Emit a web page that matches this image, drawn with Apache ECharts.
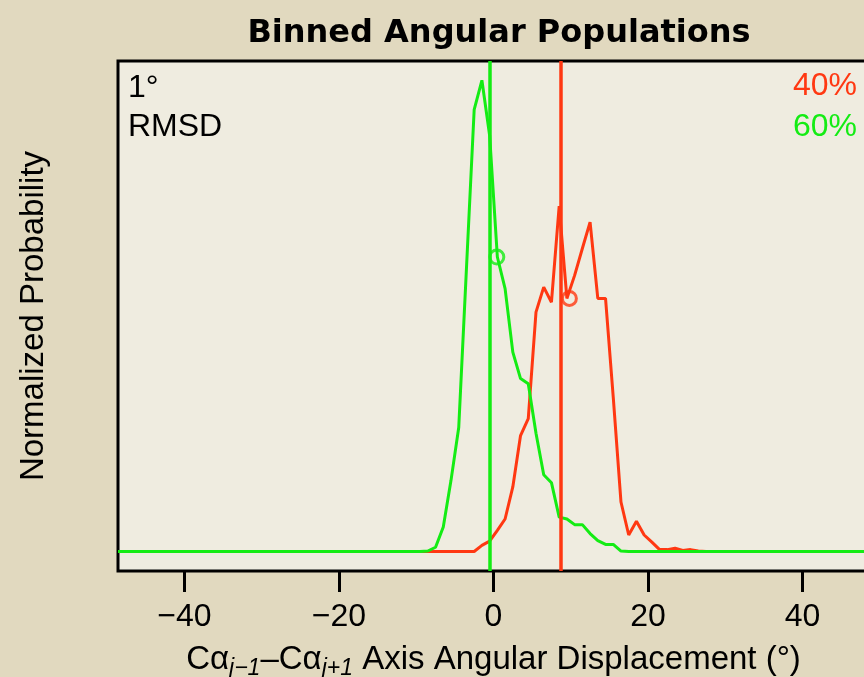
<!DOCTYPE html>
<html>
<head>
<meta charset="utf-8">
<title>Binned Angular Populations</title>
<script src="https://cdn.jsdelivr.net/npm/echarts@6/dist/echarts.min.js"></script>
<style>
    html, body { margin: 0; padding: 0; background: #e1d9bf; }
    #main { width: 864px; height: 677px; }
</style>
</head>
<body>
<div id="main"></div>
<script>
// 数据：1° 分箱的角位移分布（归一化，峰值 = 1）
var greenX = [-48.6, -9.5, -8.5, -7.5, -6.5, -5.5, -4.5, -3.5, -2.5, -1.5, -0.5,
    0.5, 1.5, 2.5, 3.5, 4.5, 5.5, 6.5, 7.5, 8.5, 9.5, 10.5, 11.5, 12.5, 13.5,
    14.5, 15.5, 16.5, 17.5, 48.6];
var greenY = [0, 0, 0.001, 0.009, 0.052, 0.151, 0.263, 0.601, 0.938, 1.0, 0.883,
    0.625, 0.558, 0.423, 0.367, 0.356, 0.251, 0.163, 0.146, 0.073, 0.069, 0.057, 0.057, 0.038, 0.023,
    0.015, 0.015, 0.001, 0, 0];

var redX = [-48.6, -2.5, -1.5, -0.5, 0.5, 1.5, 2.5, 3.5, 4.5, 5.5, 6.5, 7.5, 8.5,
    9.5, 10.5, 11.5, 12.5, 13.5, 14.5, 15.5, 16.5, 17.5, 18.5, 19.5, 20.5,
    21.5, 22.5, 23.5, 24.5, 25.5, 26.5, 27.5, 48.6];
var redY = [0, 0, 0.013, 0.022, 0.045, 0.069, 0.137, 0.246, 0.282, 0.508, 0.561, 0.529, 0.733,
    0.537, 0.586, 0.643, 0.699, 0.537, 0.537, 0.327, 0.105, 0.035, 0.064, 0.035, 0.020,
    0.004, 0.004, 0.007, 0.002, 0.004, 0.001, 0, 0];

// 竖线（RMSD 位置）和圆圈标记
var greenLineX = -0.5;
var redLineX = 8.75;
var greenCircle = [0.43, 0.625];
var redCircle = [9.82, 0.537];

var xTicks = [-40, -20, 0, 20, 40];

var GREEN = "#14ec14";
var RED = "#ff3812";
var FONT = "Liberation Sans, Arial, Helvetica, sans-serif";

function pairs(xs, ys) {
    return xs.map(function(x, i) { return [x, ys[i]]; });
}

(function() {
    var myChart = echarts.init(document.getElementById("main"));
    var option = {
        backgroundColor: "#e1d9bf",
        animation: false,
        title: {
            text: "Binned Angular Populations",
            left: 494,
            top: 13,
            textAlign: "center",
            textStyle: { fontFamily: "DejaVu Sans", fontSize: 32, fontWeight: "bold", color: "#000" }
        },
        grid: {
            left: 118,
            top: 61,
            right: -5,
            bottom: 106,
            outerBoundsMode: "none",
            containLabel: false,
            show: true,
            backgroundColor: "#efece0",
            borderColor: "#000",
            borderWidth: 3
        },
        xAxis: {
            type: "value",
            min: -48.6,
            max: 48.6,
            axisLine: { show: false, onZero: false },
            splitLine: { show: false },
            axisTick: {
                show: true,
                inside: false,
                length: 21,
                customValues: xTicks,
                lineStyle: { color: "#000", width: 3 }
            },
            axisLabel: {
                customValues: xTicks,
                margin: 30,
                fontFamily: FONT,
                fontSize: 32,
                color: "#000",
                formatter: function(v) { return v < 0 ? "\u2212" + Math.abs(v) : String(v); }
            },
            name: "{t|C\u03b1}{s|j\u22121}{t|\u2013C\u03b1}{s|j+1}{t| Axis Angular Displacement (\u00b0)}",
            nameLocation: "middle",
            nameGap: 70,
            nameTextStyle: {
                rich: {
                    t: { fontFamily: FONT, fontSize: 33, color: "#000", lineHeight: 38 },
                    s: { fontFamily: FONT, fontSize: 23, fontStyle: "italic", color: "#000",
                        lineHeight: 38, padding: [18, 0, 0, 0] }
                }
            }
        },
        yAxis: {
            type: "value",
            min: -0.0414,
            max: 1.041,
            axisLine: { show: false, onZero: false },
            axisTick: { show: false },
            axisLabel: { show: false },
            splitLine: { show: false },
            name: "Normalized Probability",
            nameLocation: "middle",
            nameGap: 68,
            nameTextStyle: { fontFamily: FONT, fontSize: 33, color: "#000" }
        },
        graphic: [
            { type: "text", left: 128, top: 72, style: { text: "1\u00b0", font: "32px " + FONT, fill: "#000" } },
            { type: "text", left: 128, top: 111, style: { text: "RMSD", font: "32px " + FONT, fill: "#000" } },
            { type: "text", right: 7, top: 70, style: { text: "40%", font: "32px " + FONT, fill: RED } },
            { type: "text", right: 7, top: 111, style: { text: "60%", font: "32px " + FONT, fill: GREEN } }
        ],
        series: [{
            name: "red",
            type: "line",
            data: pairs(redX, redY),
            showSymbol: false,
            lineStyle: { color: RED, width: 3 },
            itemStyle: { color: RED },
            z: 2,
            markLine: {
                silent: true,
                symbol: "none",
                label: { show: false },
                lineStyle: { color: RED, width: 3.5, type: "solid" },
                data: [{ xAxis: redLineX }]
            }
        }, {
            name: "green",
            type: "line",
            data: pairs(greenX, greenY),
            showSymbol: false,
            lineStyle: { color: GREEN, width: 3 },
            itemStyle: { color: GREEN },
            z: 3,
            markLine: {
                silent: true,
                symbol: "none",
                label: { show: false },
                lineStyle: { color: GREEN, width: 3.5, type: "solid" },
                data: [{ xAxis: greenLineX }]
            }
        }, {
            name: "circles",
            type: "scatter",
            symbol: "circle",
            symbolSize: 14,
            z: 4,
            data: [{
                value: greenCircle,
                itemStyle: { color: "rgba(0,0,0,0)", borderColor: GREEN, borderWidth: 3 }
            }, {
                value: redCircle,
                itemStyle: { color: "rgba(0,0,0,0)", borderColor: RED, borderWidth: 3 }
            }]
        }]
    };
    myChart.setOption(option);
    window.addEventListener("resize", function() {
        myChart.resize();
    });
})();
</script>
</body>
</html>
